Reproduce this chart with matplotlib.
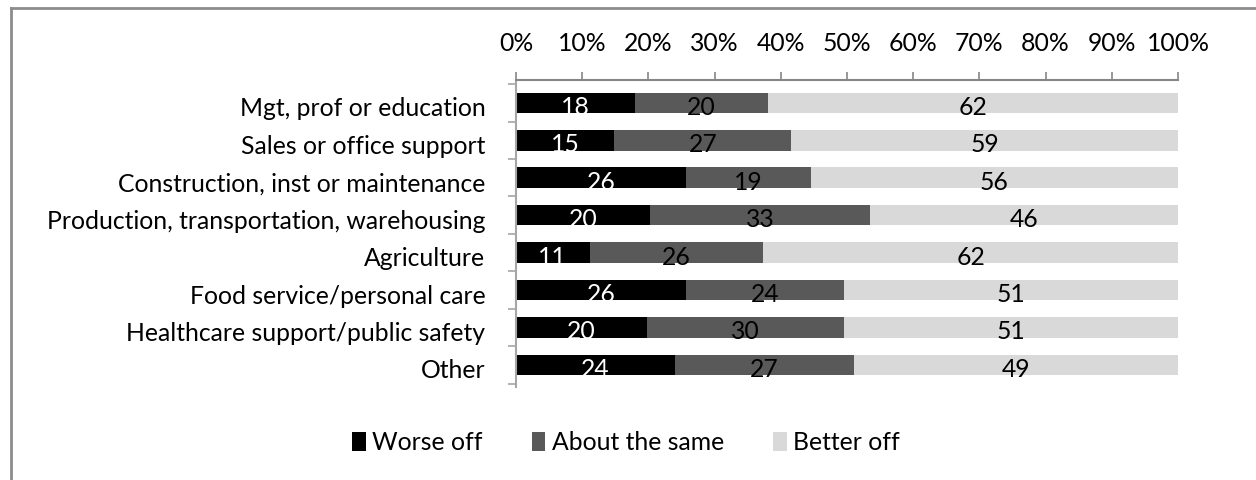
import matplotlib
matplotlib.use("Agg")
import matplotlib.pyplot as plt
from matplotlib.lines import Line2D
from matplotlib.patches import Patch
from matplotlib.transforms import ScaledTranslation
import numpy as np

plt.rcParams["font.family"] = ["Lato", "DejaVu Sans"]

categories = ["Mgt, prof or education", "Sales or office support",
              "Construction, inst or maintenance",
              "Production, transportation, warehousing", "Agriculture",
              "Food service/personal care", "Healthcare support/public safety",
              "Other"]
worse = [18, 15, 26, 20, 11, 26, 20, 24]
same = [20, 27, 19, 33, 26, 24, 30, 27]
better = [62, 59, 56, 46, 62, 51, 51, 49]
series_names = ["Worse off", "About the same", "Better off"]
colors = ["#000000", "#595959", "#d9d9d9"]
text_colors = ["white", "black", "black"]

FS = 17.8
W, H = 1256, 480
fig = plt.figure(figsize=(W / 100, H / 100), dpi=100)

# outer frame (only top and left visible in the crop)
fig.add_artist(Line2D([11 / W, 11 / W], [0, 1 - 8 / H], transform=fig.transFigure,
                      color="#8c8c8c", lw=2))
fig.add_artist(Line2D([11 / W, 1], [1 - 8 / H, 1 - 8 / H], transform=fig.transFigure,
                      color="#8c8c8c", lw=2))

ax = fig.add_axes([516 / W, (H - 387) / H, 662 / W, 307 / H])

vals = np.array([worse, same, better], dtype=float)
totals = vals.sum(axis=0)
pct = vals / totals * 100
y = np.arange(len(categories))
left = np.zeros(len(categories))
for k in range(3):
    ax.barh(y, pct[k], left=left, height=0.55, color=colors[k], label=series_names[k])
    for i in range(len(categories)):
        ax.text(left[i] + pct[k][i] / 2, y[i] + 0.12, str(int(vals[k][i])),
                ha="center", va="center", color=text_colors[k], fontsize=FS)
    left += pct[k]

ax.set_xlim(0, 100)
ax.set_ylim(7.59, -0.61)
ax.xaxis.tick_top()
ax.set_xticks(np.arange(0, 101, 10))
ax.set_xticklabels([f"{t}%" for t in range(0, 101, 10)], fontsize=FS)
ax.tick_params(axis="x", length=6, width=1.2, color="#868686", pad=12)
ax.set_yticks(y)
ax.set_yticklabels(categories, fontsize=FS)
ax.tick_params(axis="y", length=0, pad=22)
ax.set_yticks(np.arange(-0.5, len(categories), 1), minor=True)
ax.tick_params(axis="y", which="minor", length=6, width=1.2, color="#a6a6a6")
# labels sit a little below the bar centre in the original
shift = ScaledTranslation(0, -0.04, fig.dpi_scale_trans)
for lab in ax.get_yticklabels():
    lab.set_transform(lab.get_transform() + shift)

for s in ["right", "bottom"]:
    ax.spines[s].set_visible(False)
ax.spines["top"].set_color("#868686")
ax.spines["top"].set_linewidth(1.5)
ax.spines["left"].set_color("#a6a6a6")
ax.spines["left"].set_linewidth(1.5)

handles = [Patch(facecolor=c) for c in colors]
fig.legend(handles, series_names, loc="center", bbox_to_anchor=(626 / W, 1 - 443 / H),
           ncol=3, frameon=False, fontsize=FS, handlelength=0.55, handleheight=0.8,
           handletextpad=0.25, columnspacing=2.0)

fig.savefig("out.png", dpi=100)
